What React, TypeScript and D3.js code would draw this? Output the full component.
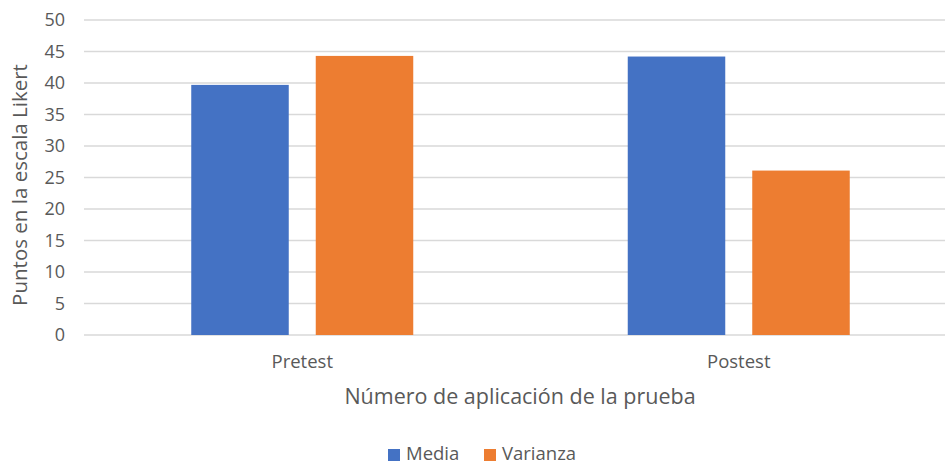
import React from "react";
import * as d3 from "d3";

const categories = ["Pretest", "Postest"];
const seriesNames = ["Media", "Varianza"];
const media = [39.7, 44.2];
const varianza = [44.3, 26.1];
const yTicks = [0, 5, 10, 15, 20, 25, 30, 35, 40, 45, 50];
const colors = ["#4472C4", "#ED7D31"];

const W = 945;
const H = 465;
const FONT = "'Open Sans', 'Noto Sans', sans-serif";
const TXT = "#595959";

export default function App() {
  const x = d3.scaleBand<string>().domain(categories).range([84, 957]).paddingInner(0).paddingOuter(0);
  const y = d3.scaleLinear().domain([0, 50]).range([335, 20]);
  const bw = 97.5;
  const gap = 27;
  const values = [media, varianza];
  return (
    <svg width={W} height={H} style={{ position: "absolute", left: 0, top: 0, background: "#fff" }}>
      {yTicks.map((t) => (
        <g key={t}>
          <line x1={84} x2={W} y1={y(t)} y2={y(t)} stroke="#D9D9D9" strokeWidth={1.3} />
          <text x={65} y={y(t)} dy="0.36em" textAnchor="end" fontSize={18} fill={TXT} fontFamily={FONT}>
            {t}
          </text>
        </g>
      ))}
      {categories.map((c, i) => {
        const cx = (x(c) as number) + x.bandwidth() / 2;
        return (
          <g key={c}>
            {values.map((vals, s) => {
              const left = cx - gap / 2 - bw + s * (bw + gap);
              return (
                <rect key={s} x={left} y={y(vals[i])} width={bw} height={y(0) - y(vals[i])} fill={colors[s]} />
              );
            })}
            <text x={cx} y={362} dy="0.35em" textAnchor="middle" fontSize={18.5} fill={TXT} fontFamily={FONT}>
              {c}
            </text>
          </g>
        );
      })}
      <text x={520} y={396} dy="0.35em" textAnchor="middle" fontSize={21.5} fill={TXT} fontFamily={FONT}>
        Número de aplicación de la prueba
      </text>
      <text
        transform="translate(20,185) rotate(-90)"
        textAnchor="middle"
        dy="0.35em"
        fontSize={20.5}
        fill={TXT}
        fontFamily={FONT}
      >
        Puntos en la escala Likert
      </text>
      {seriesNames.map((n, s) => {
        const lx = s === 0 ? 388 : 484;
        return (
          <g key={n}>
            <rect x={lx} y={449} width={12} height={12} fill={colors[s]} />
            <text x={lx + 18} y={460} fontSize={18.5} fill={TXT} fontFamily={FONT}>
              {n}
            </text>
          </g>
        );
      })}
    </svg>
  );
}
